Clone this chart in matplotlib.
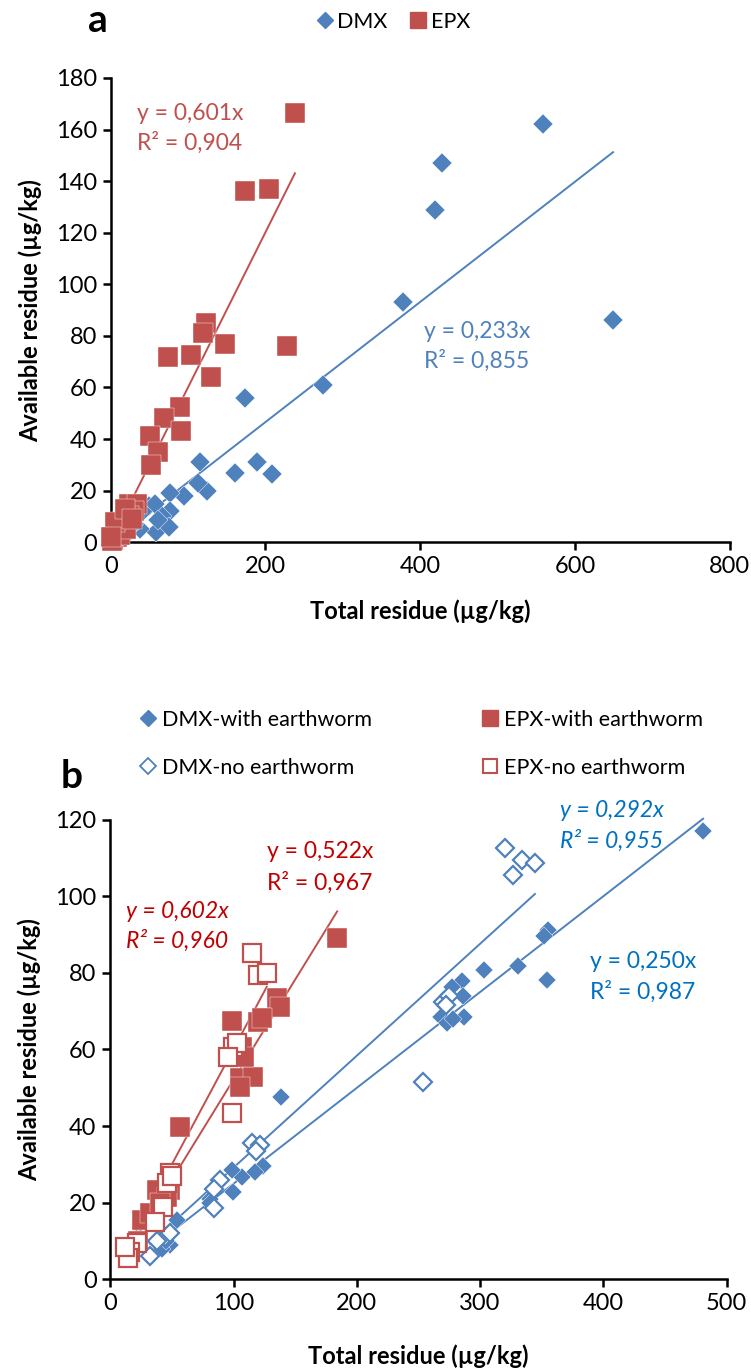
import numpy as np
import matplotlib.pyplot as plt
from matplotlib.lines import Line2D

plt.rcParams['font.family'] = ['Lato', 'DejaVu Sans']

# ---- panel a data (total residue, available residue), ug/kg
dmx_a_x = [558, 428, 419, 378, 649, 274, 174, 116, 189, 161, 209, 124, 113, 95, 77, 77,
           49, 66, 59, 75, 38, 42, 57, 61, 20, 10, 30, 3, 15, 25]
dmx_a_y = [162, 147, 129, 93, 86, 61, 56, 31, 31, 27, 26.5, 20, 23, 18, 19, 12,
           14, 10, 4, 6, 5, 12, 15, 8.5, 3, 2, 7, 1, 4, 6]
epx_a_x = [238, 173, 204, 123, 119, 148, 74, 104, 228, 129, 90, 69, 91, 51, 61, 52,
           24, 34, 30, 24, 15, 10, 5, 8, 3, 2, 12, 20, 5, 18, 28, 1]
epx_a_y = [166.5, 136, 137, 85, 81, 77, 72, 72.6, 76, 64, 52.5, 48, 43, 41, 35, 30,
           15, 15, 12, 10, 8, 6, 4, 2, 1, 0.5, 3, 5, 8, 13, 9, 2]
slope_dmx_a, r2_dmx_a = 0.233, 0.855
slope_epx_a, r2_epx_a = 0.601, 0.904

# ---- panel b data
dmx_w_x = [481, 355, 352, 331, 354, 303, 285, 277, 286, 287, 268, 273, 278, 138, 124,
           117, 106.5, 99, 99.5, 81, 81, 54, 48, 42, 45]
dmx_w_y = [117, 91.2, 89.5, 81.8, 78.1, 80.8, 78, 76.4, 74, 68.6, 68.6, 66.8, 68, 47.7, 29.5,
           28, 26.8, 28.5, 22.8, 21, 19.8, 15.5, 9, 8, 10]
dmx_n_x = [320, 334, 344.5, 327, 254, 270, 275, 272, 115, 121, 118, 89, 84, 84, 44, 38, 32, 48]
dmx_n_y = [112.5, 109.5, 108.6, 105.6, 51.6, 72.5, 74, 71.5, 35.5, 35, 33.5, 26, 23.5, 18.5,
           11, 10, 6, 12]
epx_w_x = [184, 135, 137.6, 120, 123, 98.4, 106.5, 105, 116, 105, 108, 56.4, 37.5, 48.3,
           45.6, 25.3, 32, 22, 16, 40]
epx_w_y = [89, 73.4, 71, 67.3, 68.1, 67.5, 60.7, 52.5, 52.9, 50.3, 58, 39.8, 23.3, 23.3,
           21.6, 15.5, 17.2, 10, 7, 20]
epx_n_x = [114.6, 120, 126.8, 99.7, 102.4, 95.6, 98.4, 48.3, 45.6, 42.8, 36, 21.3, 15.8,
           14.5, 12, 50]
epx_n_y = [85.1, 79.5, 79.9, 60.7, 61.6, 58.1, 43.3, 27.7, 25.1, 19, 15, 9.4, 7.2, 5.5, 8.5, 27]
slope_dmx_w, r2_dmx_w = 0.250, 0.987
slope_dmx_n, r2_dmx_n = 0.292, 0.955
slope_epx_w, r2_epx_w = 0.522, 0.967
slope_epx_n, r2_epx_n = 0.602, 0.960

BLUE = '#4F81BD'
RED = '#C0504D'
TXT_RED = '#C00000'
TXT_BLUE = '#0070C0'
FS_TICK = 17
FS_LAB = 17
FS_ANN = 16.5
FS_LEG = 15.5


def fmt(v):
    return f"{v:.3f}".replace('.', ',')


def trend(ax, xs, slope, color):
    x = np.array([min(xs), max(xs)])
    ax.plot(x, slope * x, color=color, lw=1.4, zorder=2)


def style_axes(ax, xmax, ymax, xstep, ystep, xpad):
    ax.set_xlim(0, xmax)
    ax.set_ylim(0, ymax)
    ax.set_xticks(np.arange(0, xmax + 1, xstep))
    ax.set_yticks(np.arange(0, ymax + 1, ystep))
    for s in ['top', 'right']:
        ax.spines[s].set_visible(False)
    for s in ['left', 'bottom']:
        ax.spines[s].set_linewidth(1.8)
    ax.tick_params(direction='out', length=6, width=1.8, labelsize=FS_TICK, pad=4)
    ax.set_xlabel('Total residue (µg/kg)', fontsize=FS_LAB, fontweight='bold', labelpad=xpad)
    ax.set_ylabel('Available residue (µg/kg)', fontsize=FS_LAB, fontweight='bold', labelpad=10)


fig = plt.figure(figsize=(7.51, 13.70), dpi=100)

# ---------------- panel a
ax1 = fig.add_axes([0.1474, 0.6042, 0.8245, 0.3389])
ax1.plot(dmx_a_x, dmx_a_y, 'D', color=BLUE, ms=10.5, mec='white', mew=0.3, ls='none', zorder=3)
ax1.plot(epx_a_x, epx_a_y, 's', color=RED, ms=14, mec='white', mew=0.3, ls='none', zorder=3)
trend(ax1, dmx_a_x, slope_dmx_a, BLUE)
trend(ax1, epx_a_x, slope_epx_a, RED)
style_axes(ax1, 800, 180, 200, 20, 16)
for l in ax1.lines:
    l.set_clip_on(False)
ax1.text(34, 166.4, f"y = {fmt(slope_epx_a)}x", color=RED, fontsize=FS_ANN, va='center')
ax1.text(34, 154.8, f"R² = {fmt(r2_epx_a)}", color=RED, fontsize=FS_ANN, va='center')
ax1.text(405, 81.6, f"y = {fmt(slope_dmx_a)}x", color=BLUE, fontsize=FS_ANN, va='center')
ax1.text(405, 70.3, f"R² = {fmt(r2_dmx_a)}", color=BLUE, fontsize=FS_ANN, va='center')

h_a = [Line2D([], [], marker='D', color=BLUE, ls='none', ms=8.5),
       Line2D([], [], marker='s', color=RED, ls='none', ms=11)]
fig.legend(h_a, ['DMX', 'EPX'], loc='center', bbox_to_anchor=(392 / 751, 1 - 22 / 1370),
           ncol=2, frameon=False, fontsize=FS_LEG, handletextpad=0.1, columnspacing=0.9,
           handlelength=1.0)
fig.text(98 / 751, 1 - 20 / 1370, 'a', fontsize=28, fontweight='bold', ha='center', va='center')

# ---------------- panel b
ax2 = fig.add_axes([0.1471, 0.0662, 0.8203, 0.3355])
ax2.plot(dmx_w_x, dmx_w_y, 'D', color=BLUE, ms=9.5, mec='white', mew=0.3, ls='none', zorder=3)
ax2.plot(epx_w_x, epx_w_y, 's', color=RED, ms=14.5, mec='white', mew=0.3, ls='none', zorder=3)
ax2.plot(dmx_n_x, dmx_n_y, 'D', mfc='white', mec=BLUE, mew=1.6, ms=9, ls='none', zorder=4)
ax2.plot(epx_n_x, epx_n_y, 's', mfc='white', mec=RED, mew=1.6, ms=13.5, ls='none', zorder=4)
trend(ax2, dmx_w_x, slope_dmx_w, BLUE)
trend(ax2, dmx_n_x, slope_dmx_n, BLUE)
trend(ax2, epx_w_x, slope_epx_w, RED)
trend(ax2, epx_n_x, slope_epx_n, RED)
style_axes(ax2, 500, 120, 100, 20, 22)
for l in ax2.lines:
    l.set_clip_on(False)
ax2.text(127, 111.6, f"y = {fmt(slope_epx_w)}x", color=TXT_RED, fontsize=FS_ANN, va='center')
ax2.text(127, 103.5, f"R² = {fmt(r2_epx_w)}", color=TXT_RED, fontsize=FS_ANN, va='center')
ax2.text(12.6, 95.9, f"y = {fmt(slope_epx_n)}x", color=TXT_RED, fontsize=FS_ANN, va='center', style='italic')
ax2.text(12.6, 88.3, f"R² = {fmt(r2_epx_n)}", color=TXT_RED, fontsize=FS_ANN, va='center', style='italic')
ax2.text(365, 122.3, f"y = {fmt(slope_dmx_n)}x", color=TXT_BLUE, fontsize=FS_ANN, va='center', style='italic')
ax2.text(365, 114.4, f"R² = {fmt(r2_dmx_n)}", color=TXT_BLUE, fontsize=FS_ANN, va='center', style='italic')
ax2.text(389, 82.9, f"y = {fmt(slope_dmx_w)}x", color=TXT_BLUE, fontsize=FS_ANN, va='center')
ax2.text(389, 75.0, f"R² = {fmt(r2_dmx_w)}", color=TXT_BLUE, fontsize=FS_ANN, va='center')

h_b = [Line2D([], [], marker='D', color=BLUE, ls='none', ms=8.5),
       Line2D([], [], marker='D', mfc='white', mec=BLUE, mew=1.3, ls='none', ms=8),
       Line2D([], [], marker='s', color=RED, ls='none', ms=11),
       Line2D([], [], marker='s', mfc='white', mec=RED, mew=1.5, ls='none', ms=10.5)]
fig.legend(h_b, ['DMX-with earthworm', 'DMX-no earthworm', 'EPX-with earthworm', 'EPX-no earthworm'],
           loc='center', bbox_to_anchor=(420 / 751, 1 - 744 / 1370), ncol=2, frameon=False,
           fontsize=FS_LEG, handletextpad=0.15, columnspacing=5.0, handlelength=1.0, labelspacing=1.3)
fig.text(72 / 751, 1 - 777 / 1370, 'b', fontsize=28, fontweight='bold', ha='center', va='center')

fig.savefig('out.png', dpi=100)
